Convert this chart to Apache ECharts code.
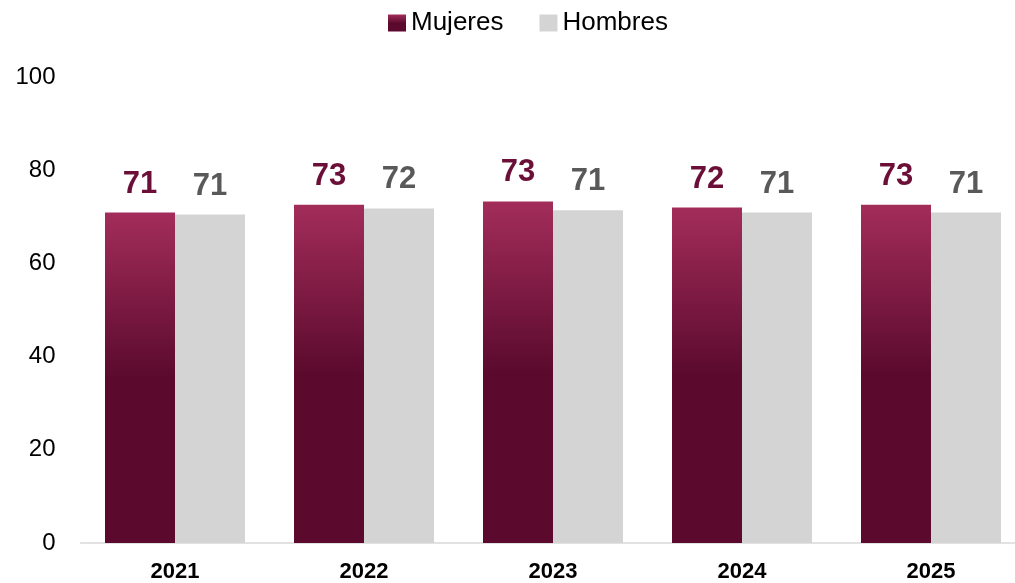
<!DOCTYPE html>
<html><head><meta charset="utf-8">
<script src="https://cdn.jsdelivr.net/npm/echarts@6/dist/echarts.min.js"></script>
<style>html,body{margin:0;padding:0;background:#fff}#c{width:1015px;height:583px}</style>
</head><body><div id="c"></div>
<script>
const categories = ['2021','2022','2023','2024','2025'];
const mujeres = [70.9, 72.6, 73.3, 72.0, 72.6];
const hombres = [70.5, 71.8, 71.4, 70.9, 70.9];
const yTicks = [0, 20, 40, 60, 80, 100];

const chart = echarts.init(document.getElementById('c'));
const grad = new echarts.graphic.LinearGradient(0,0,0,1,[
  {offset:0,color:'#A32D5A'},{offset:0.5,color:'#5B0A2E'},{offset:1,color:'#5B0A2E'}]);
const font = 'Liberation Sans, Arial, sans-serif';
chart.setOption({
  animation:false,
  textStyle:{fontFamily:font},
  legend:{
    top:5, left:383, itemWidth:18, itemHeight:17, itemGap:36, icon:'rect',
    textStyle:{fontSize:26, color:'#000', fontFamily:font},
    data:[{name:'Mujeres', itemStyle:{color:grad}},{name:'Hombres', itemStyle:{color:'#D4D4D4'}}]
  },
  grid:{left:80.5, top:77, width:945, height:466, containLabel:false, outerBoundsMode:'none'},
  xAxis:{
    type:'category', data:categories,
    axisLine:{lineStyle:{color:'#D9D9D9', width:1.5}},
    axisTick:{show:false},
    axisLabel:{fontSize:22, fontWeight:'bold', color:'#000', margin:18, fontFamily:font}
  },
  yAxis:{
    type:'value', min:0, max:100, interval:20,
    splitLine:{show:false},
    axisLine:{show:false}, axisTick:{show:false},
    axisLabel:{fontSize:24, color:'#000', margin:25, fontFamily:font,
      formatter:v=>yTicks.includes(v)?String(v):''}
  },
  series:[
    {name:'Mujeres', type:'bar', data:mujeres, barWidth:70, barGap:'0%',
     itemStyle:{color:grad},
     label:{show:true, position:'top', distance:13, fontSize:31, fontWeight:'bold', color:'#6B0F38', fontFamily:font,
       formatter:p=>Math.round(p.value)}},
    {name:'Hombres', type:'bar', data:hombres, barWidth:70,
     itemStyle:{color:'#D4D4D4'},
     label:{show:true, position:'top', distance:13, fontSize:31, fontWeight:'bold', color:'#595959', fontFamily:font,
       formatter:p=>Math.round(p.value)}}
  ]
});
</script></body></html>
